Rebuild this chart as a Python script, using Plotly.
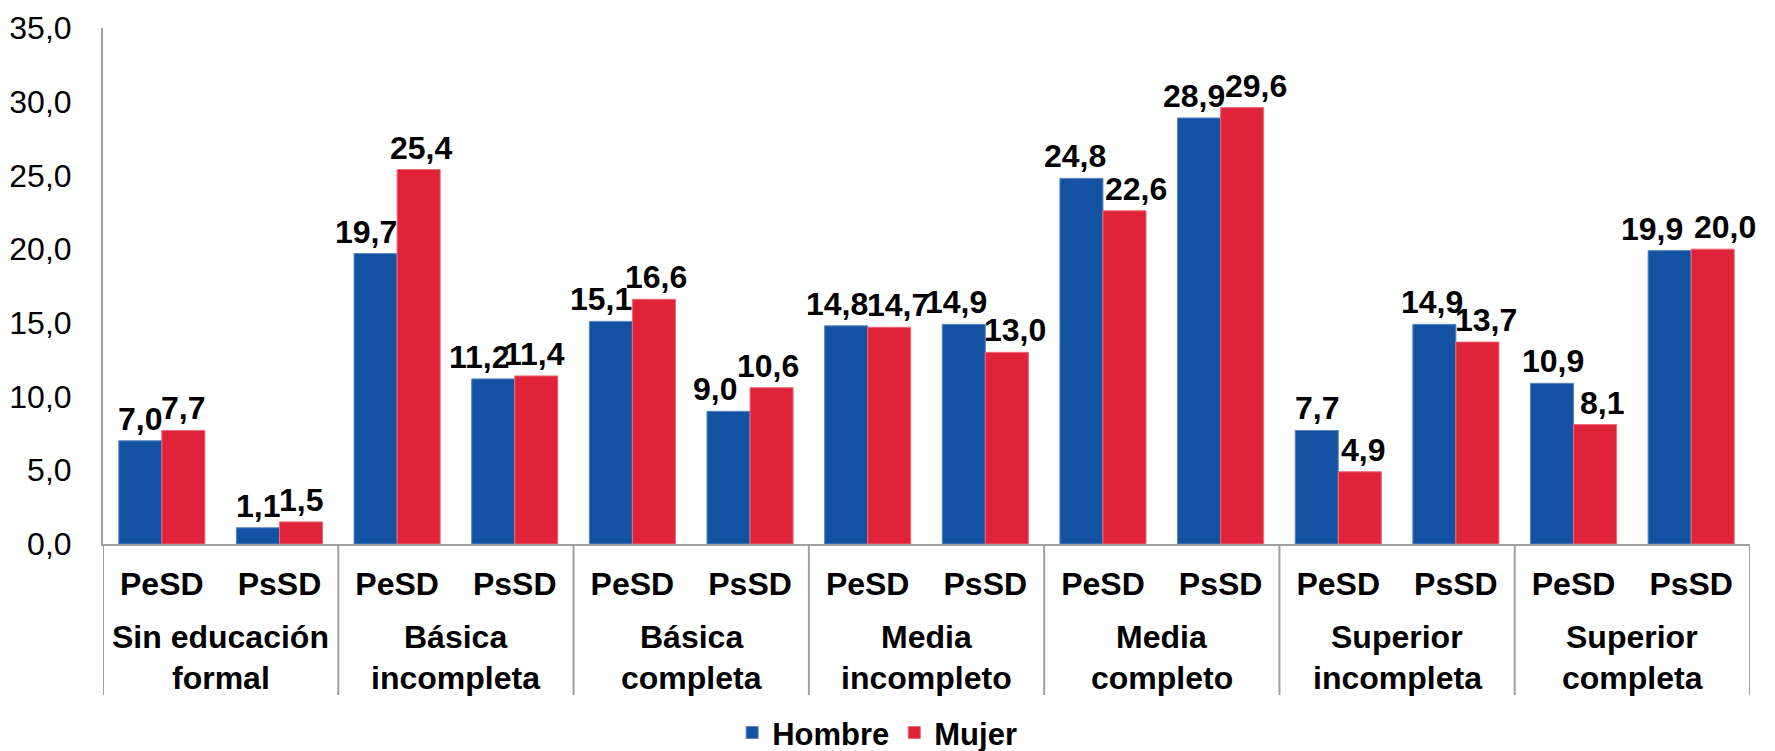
import plotly.graph_objects as go

groups = [["Sin educación", "formal"], ["Básica", "incompleta"], ["Básica", "completa"],
          ["Media", "incompleto"], ["Media", "completo"], ["Superior", "incompleta"],
          ["Superior", "completa"]]
subcats = ["PeSD", "PsSD"]
hombre = [7.0, 1.1, 19.7, 11.2, 15.1, 9.0, 14.8, 14.9, 24.8, 28.9, 7.7, 14.9, 10.9, 19.9]
mujer = [7.7, 1.5, 25.4, 11.4, 16.6, 10.6, 14.7, 13.0, 22.6, 29.6, 4.9, 13.7, 8.1, 20.0]
y_ticks = [0, 5, 10, 15, 20, 25, 30, 35]

# label nudges (pixels) to mimic the reference's label placement
shift_h = [0, 0, -10, -14, -10, -14, -9, -8, -6, -5, 0, -2, 1, -18]
shift_m = [0, 0, 2, -2, 2, -4, 9, 8, 12, 14, 3, 9, 7, 12]

FONT = "Arial, Liberation Sans, sans-serif"
FS = 32
BLUE = "#1352A3"
RED = "#E1233A"
GRAY = "#a0a0a0"
BW = 0.366  # bar width in category units

sub_labels = [s for _ in groups for s in subcats]
xpos = list(range(len(sub_labels)))

def fmt(v):
    return f"{v:.1f}".replace(".", ",")

fig = go.Figure()
fig.add_trace(go.Bar(
    name="Hombre", x=xpos, y=hombre, width=BW, offset=-BW,
    marker=dict(color=BLUE, line=dict(color="#5b86c4", width=1)),
))
fig.add_trace(go.Bar(
    name="Mujer", x=xpos, y=mujer, width=BW, offset=0,
    marker=dict(color=RED, line=dict(color="#ec6a78", width=1)),
))

annotations = []
for i, (h, m) in enumerate(zip(hombre, mujer)):
    for val, xo, sh in ((h, xpos[i] - BW / 2, shift_h[i]), (m, xpos[i] + BW / 2, shift_m[i])):
        annotations.append(dict(
            x=xo, y=val, xref="x", yref="y", text=fmt(val), showarrow=False,
            xanchor="center", yanchor="bottom", xshift=sh, yshift=2,
            font=dict(family=FONT, size=FS, color="black", weight="bold"),
        ))

line_y = [-0.1802, -0.2597]
for g, lines in enumerate(groups):
    for ly, txt in zip(line_y, lines):
        annotations.append(dict(
            x=2 * g + 0.5, y=ly, xref="x", yref="paper", text=f"<b>{txt}</b>",
            showarrow=False, xanchor="center", yanchor="middle",
            font=dict(family=FONT, size=FS, color="black"),
        ))

shapes = []
for k in range(len(groups) + 1):
    shapes.append(dict(
        type="line", xref="x", yref="paper", x0=2 * k - 0.5, x1=2 * k - 0.5,
        y0=0, y1=-0.2926, line=dict(color=GRAY, width=2),
    ))

fig.update_layout(
    width=1775, height=751,
    margin=dict(l=103, r=25, t=28, b=207, autoexpand=False),
    paper_bgcolor="white", plot_bgcolor="white",
    font=dict(family=FONT, size=FS, color="black"),
    annotations=annotations, shapes=shapes,
    legend=dict(orientation="h", x=0.382, xanchor="left", y=-0.366, yanchor="middle",
                font=dict(family=FONT, size=31, color="black", weight="bold"),
                itemwidth=30, bgcolor="rgba(0,0,0,0)"),
    showlegend=True,
)
fig.update_xaxes(
    range=[-0.5, len(xpos) - 0.5], tickvals=xpos, ticktext=sub_labels,
    showline=True, linecolor=GRAY, linewidth=2, automargin=False,
    tickfont=dict(family=FONT, size=FS, color="black", weight="bold"),
    ticks="", showgrid=False, zeroline=False, ticklabelstandoff=11,
)
fig.update_yaxes(
    range=[0, 35], tickvals=y_ticks, ticktext=[fmt(v) for v in y_ticks],
    showline=True, linecolor=GRAY, linewidth=2, automargin=False,
    showgrid=False, zeroline=False, ticks="",
    ticklabelstandoff=23,
    tickfont=dict(family=FONT, size=FS, color="black"),
)

fig.write_html("out.html", config={"displayModeBar": False},
               post_script="document.body.style.margin='0px';")
